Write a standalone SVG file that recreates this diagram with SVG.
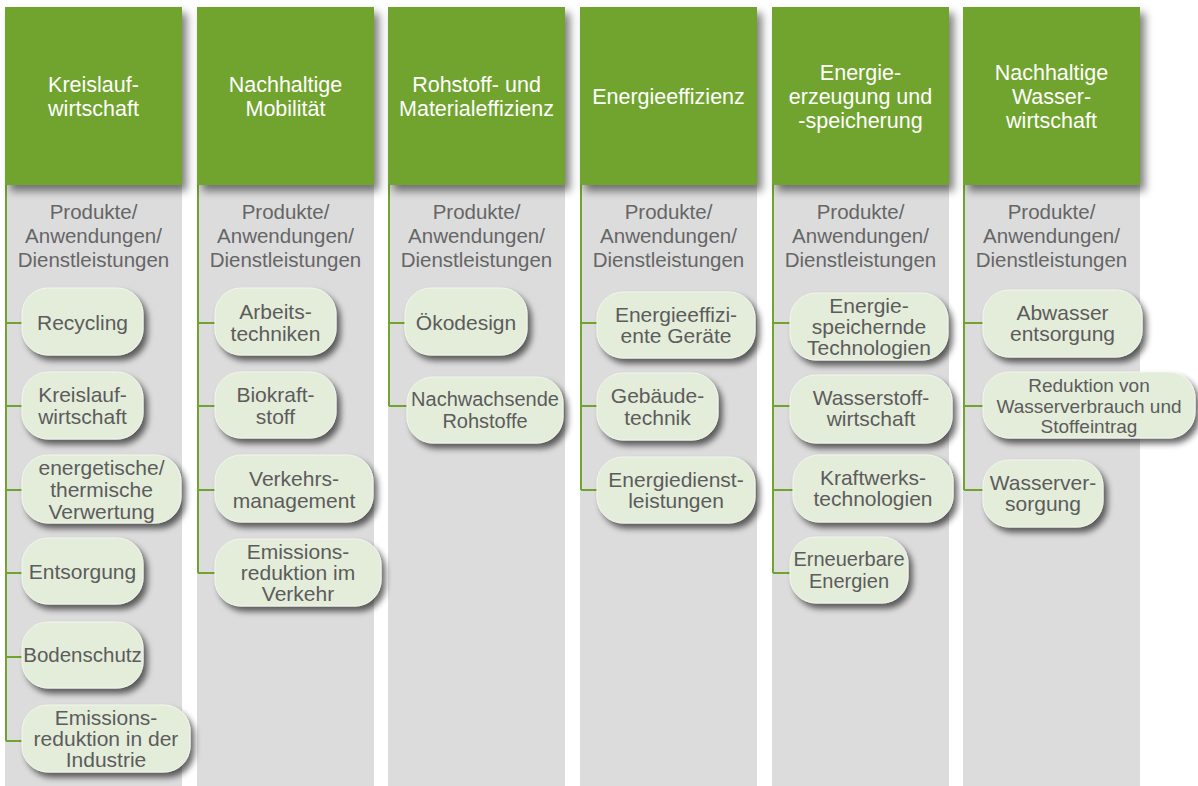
<svg xmlns="http://www.w3.org/2000/svg" width="1198" height="786" viewBox="0 0 1198 786">
  <defs>
    <filter id="shadowHead" x="-10%" y="-10%" width="130%" height="130%">
      <feGaussianBlur in="SourceAlpha" stdDeviation="4"/>
      <feOffset dx="5" dy="6" result="b"/>
      <feComponentTransfer><feFuncA type="linear" slope="0.5"/></feComponentTransfer>
      <feMerge><feMergeNode/><feMergeNode in="SourceGraphic"/></feMerge>
    </filter>
    <filter id="shadowPill" x="-15%" y="-20%" width="140%" height="160%">
      <feGaussianBlur in="SourceAlpha" stdDeviation="3"/>
      <feOffset dx="4" dy="5" result="b"/>
      <feComponentTransfer><feFuncA type="linear" slope="0.6"/></feComponentTransfer>
      <feMerge><feMergeNode/><feMergeNode in="SourceGraphic"/></feMerge>
    </filter>
  </defs>
  <style>
    .panel { fill: #DCDCDC; }
    .head { fill: #6FA42E; filter: url(#shadowHead); }
    .headText { font-family: "Liberation Sans", Arial, sans-serif; font-size: 21.5px; fill: #FFFFFF; text-anchor: middle; }
    .sub { font-family: "Liberation Sans", Arial, sans-serif; font-size: 20.5px; fill: #666666; text-anchor: middle; }
    .pill { fill: #E4ECDA; stroke: #F2F6EC; stroke-width: 1; filter: url(#shadowPill); }
    .pillText { font-family: "Liberation Sans", Arial, sans-serif; font-size: 21px; fill: #5C5C5C; text-anchor: middle; }
    .small { font-size: 19px; }
    .link { stroke: #6FA42E; stroke-width: 2; fill: none; }
  </style>

  <rect width="1198" height="786" fill="#FFFFFF"/>

  <!-- column backgrounds -->
  <g id="panels">
    <rect class="panel" x="5" y="185" width="177" height="601"/>
    <rect class="panel" x="197" y="185" width="177" height="601"/>
    <rect class="panel" x="388" y="185" width="177" height="601"/>
    <rect class="panel" x="580" y="185" width="177" height="601"/>
    <rect class="panel" x="772" y="185" width="177" height="601"/>
    <rect class="panel" x="963" y="185" width="177" height="601"/>
  </g>

  <!-- tree connectors -->
  <g id="connectors">
    <path class="link" d="M6 185 V741 M6 323 H22 M6 406 H22 M6 490 H22 M6 573 H22 M6 657 H22 M6 741 H22"/>
    <path class="link" d="M198 185 V573 M198 323 H215 M198 406 H215 M198 490 H215 M198 573 H215"/>
    <path class="link" d="M389 185 V406 M389 323 H405 M389 406 H407"/>
    <path class="link" d="M581 185 V490 M581 323 H597 M581 406 H597 M581 490 H597"/>
    <path class="link" d="M773 185 V573 M773 323 H790 M773 406 H790 M773 490 H793 M773 573 H790"/>
    <path class="link" d="M964 185 V490 M964 323 H983 M964 406 H983 M964 490 H983"/>
  </g>

  <!-- headers -->
  <g id="head-kreislauf">
    <rect class="head" x="5" y="7" width="177" height="178"/>
    <text class="headText" x="93.5" y="92">Kreislauf-</text>
    <text class="headText" x="93.5" y="116">wirtschaft</text>
  </g>
  <g id="head-mobilitaet">
    <rect class="head" x="197" y="7" width="177" height="178"/>
    <text class="headText" x="285.5" y="92">Nachhaltige</text>
    <text class="headText" x="285.5" y="116">Mobilität</text>
  </g>
  <g id="head-rohstoff">
    <rect class="head" x="388" y="7" width="177" height="178"/>
    <text class="headText" x="476.5" y="92">Rohstoff- und</text>
    <text class="headText" x="476.5" y="116">Materialeffizienz</text>
  </g>
  <g id="head-energieeffizienz">
    <rect class="head" x="580" y="7" width="177" height="178"/>
    <text class="headText" x="668.5" y="104">Energieeffizienz</text>
  </g>
  <g id="head-energieerzeugung">
    <rect class="head" x="772" y="7" width="177" height="178"/>
    <text class="headText" x="860.5" y="80">Energie-</text>
    <text class="headText" x="860.5" y="104">erzeugung und</text>
    <text class="headText" x="860.5" y="128">-speicherung</text>
  </g>
  <g id="head-wasser">
    <rect class="head" x="963" y="7" width="177" height="178"/>
    <text class="headText" x="1051.5" y="80">Nachhaltige</text>
    <text class="headText" x="1051.5" y="104">Wasser-</text>
    <text class="headText" x="1051.5" y="128">wirtschaft</text>
  </g>

  <!-- sub headings -->
  <g id="subheads">
    <text class="sub" x="93.5" y="219">Produkte/</text>
    <text class="sub" x="93.5" y="243">Anwendungen/</text>
    <text class="sub" x="93.5" y="266.5">Dienstleistungen</text>
    <text class="sub" x="285.5" y="219">Produkte/</text>
    <text class="sub" x="285.5" y="243">Anwendungen/</text>
    <text class="sub" x="285.5" y="266.5">Dienstleistungen</text>
    <text class="sub" x="476.5" y="219">Produkte/</text>
    <text class="sub" x="476.5" y="243">Anwendungen/</text>
    <text class="sub" x="476.5" y="266.5">Dienstleistungen</text>
    <text class="sub" x="668.5" y="219">Produkte/</text>
    <text class="sub" x="668.5" y="243">Anwendungen/</text>
    <text class="sub" x="668.5" y="266.5">Dienstleistungen</text>
    <text class="sub" x="860.5" y="219">Produkte/</text>
    <text class="sub" x="860.5" y="243">Anwendungen/</text>
    <text class="sub" x="860.5" y="266.5">Dienstleistungen</text>
    <text class="sub" x="1051.5" y="219">Produkte/</text>
    <text class="sub" x="1051.5" y="243">Anwendungen/</text>
    <text class="sub" x="1051.5" y="266.5">Dienstleistungen</text>
  </g>

  <!-- Kreislaufwirtschaft items -->
  <g id="recycling">
    <rect class="pill" x="22" y="288" width="121" height="67" rx="26"/>
    <text class="pillText" x="82.5" y="329.5">Recycling</text>
  </g>
  <g id="kreislaufwirtschaft">
    <rect class="pill" x="22" y="372" width="121" height="67" rx="26"/>
    <text class="pillText" x="82.5" y="402">Kreislauf-</text>
    <text class="pillText" x="82.5" y="424">wirtschaft</text>
  </g>
  <g id="verwertung">
    <rect class="pill" x="22" y="455" width="159" height="68" rx="26"/>
    <text class="pillText" x="101.5" y="475">energetische/</text>
    <text class="pillText" x="101.5" y="497">thermische</text>
    <text class="pillText" x="101.5" y="519">Verwertung</text>
  </g>
  <g id="entsorgung">
    <rect class="pill" x="22" y="538" width="121" height="66" rx="26"/>
    <text class="pillText" x="82.5" y="578.5">Entsorgung</text>
  </g>
  <g id="bodenschutz">
    <rect class="pill" x="22" y="622" width="121" height="66" rx="26"/>
    <text class="pillText" x="82.5" y="662" style="font-size:20.5px">Bodenschutz</text>
  </g>
  <g id="emissionen-industrie">
    <rect class="pill" x="22" y="705" width="168" height="67" rx="26"/>
    <text class="pillText" x="106" y="725">Emissions-</text>
    <text class="pillText" x="106" y="746">reduktion in der</text>
    <text class="pillText" x="106" y="767">Industrie</text>
  </g>

  <!-- Nachhaltige Mobilität items -->
  <g id="arbeitstechniken">
    <rect class="pill" x="215" y="288" width="121" height="67" rx="26"/>
    <text class="pillText" x="275.5" y="319">Arbeits-</text>
    <text class="pillText" x="275.5" y="340.5">techniken</text>
  </g>
  <g id="biokraftstoff">
    <rect class="pill" x="215" y="372" width="121" height="66" rx="26"/>
    <text class="pillText" x="275.5" y="402">Biokraft-</text>
    <text class="pillText" x="275.5" y="424">stoff</text>
  </g>
  <g id="verkehrsmanagement">
    <rect class="pill" x="215" y="455" width="158" height="67" rx="26"/>
    <text class="pillText" x="294" y="486">Verkehrs-</text>
    <text class="pillText" x="294" y="507.5">management</text>
  </g>
  <g id="emissionen-verkehr">
    <rect class="pill" x="215" y="539" width="166" height="67" rx="26"/>
    <text class="pillText" x="298" y="559">Emissions-</text>
    <text class="pillText" x="298" y="580">reduktion im</text>
    <text class="pillText" x="298" y="601">Verkehr</text>
  </g>

  <!-- Rohstoff- und Materialeffizienz items -->
  <g id="oekodesign">
    <rect class="pill" x="405" y="288" width="122" height="67" rx="26"/>
    <text class="pillText" x="466" y="329.5">Ökodesign</text>
  </g>
  <g id="nachwachsende-rohstoffe">
    <rect class="pill" x="407" y="377" width="156" height="66" rx="26"/>
    <text class="pillText" x="485" y="406" style="font-size:20px">Nachwachsende</text>
    <text class="pillText" x="485" y="427.5" style="font-size:20px">Rohstoffe</text>
  </g>

  <!-- Energieeffizienz items -->
  <g id="energieeffiziente-geraete">
    <rect class="pill" x="597" y="292" width="158" height="66" rx="26"/>
    <text class="pillText" x="676" y="321.5">Energieeffizi-</text>
    <text class="pillText" x="676" y="343">ente Geräte</text>
  </g>
  <g id="gebaeudetechnik">
    <rect class="pill" x="597" y="373" width="121" height="67" rx="26"/>
    <text class="pillText" x="657.5" y="403">Gebäude-</text>
    <text class="pillText" x="657.5" y="425">technik</text>
  </g>
  <g id="energiedienstleistungen">
    <rect class="pill" x="597" y="457" width="158" height="66" rx="26"/>
    <text class="pillText" x="676" y="486.5">Energiedienst-</text>
    <text class="pillText" x="676" y="508">leistungen</text>
  </g>

  <!-- Energieerzeugung und -speicherung items -->
  <g id="energiespeicher">
    <rect class="pill" x="790" y="293" width="158" height="67" rx="26"/>
    <text class="pillText" x="869" y="313">Energie-</text>
    <text class="pillText" x="869" y="334">speichernde</text>
    <text class="pillText" x="869" y="355">Technologien</text>
  </g>
  <g id="wasserstoff">
    <rect class="pill" x="790" y="375" width="162" height="68" rx="26"/>
    <text class="pillText" x="871" y="404.5">Wasserstoff-</text>
    <text class="pillText" x="871" y="426">wirtschaft</text>
  </g>
  <g id="kraftwerke">
    <rect class="pill" x="793" y="455" width="160" height="67" rx="26"/>
    <text class="pillText" x="873" y="484.5">Kraftwerks-</text>
    <text class="pillText" x="873" y="506">technologien</text>
  </g>
  <g id="erneuerbare">
    <rect class="pill" x="790" y="537" width="118" height="66" rx="26"/>
    <text class="pillText" x="849" y="566" style="font-size:20px">Erneuerbare</text>
    <text class="pillText" x="849" y="587.5" style="font-size:20px">Energien</text>
  </g>

  <!-- Nachhaltige Wasserwirtschaft items -->
  <g id="abwasser">
    <rect class="pill" x="983" y="290" width="159" height="67" rx="26"/>
    <text class="pillText" x="1062.5" y="319.5">Abwasser</text>
    <text class="pillText" x="1062.5" y="341">entsorgung</text>
  </g>
  <g id="wasserverbrauch">
    <rect class="pill" x="983" y="372" width="212" height="66" rx="26"/>
    <text class="pillText small" x="1089" y="392">Reduktion von</text>
    <text class="pillText small" x="1089" y="412.5">Wasserverbrauch und</text>
    <text class="pillText small" x="1089" y="433">Stoffeintrag</text>
  </g>
  <g id="wasserversorgung">
    <rect class="pill" x="983" y="460" width="120" height="67" rx="26"/>
    <text class="pillText" x="1043" y="489.5">Wasserver-</text>
    <text class="pillText" x="1043" y="511">sorgung</text>
  </g>
</svg>
